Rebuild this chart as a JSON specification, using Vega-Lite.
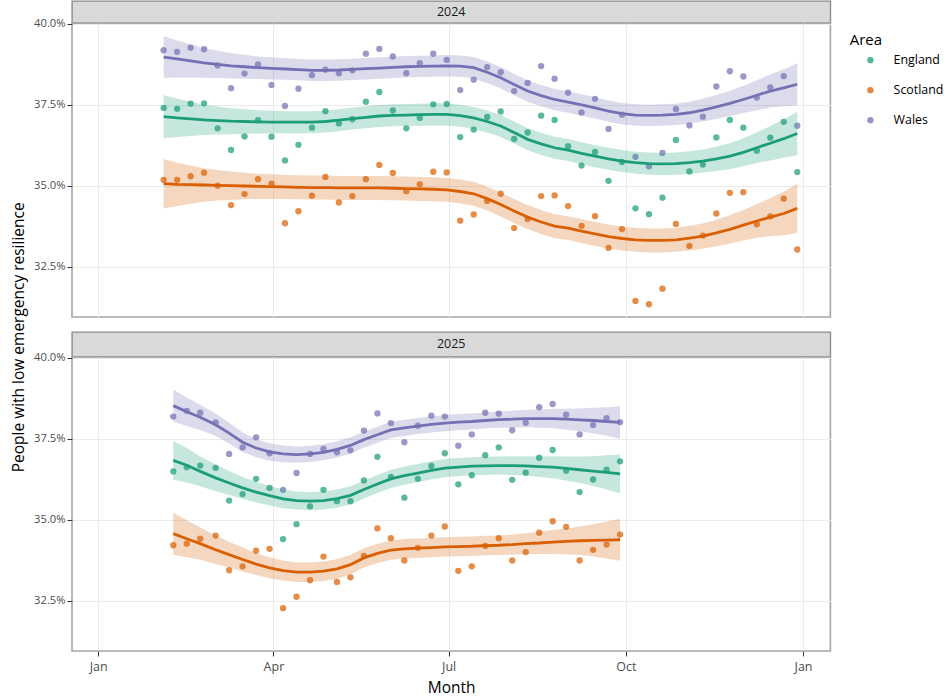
{
  "$schema": "https://vega.github.io/schema/vega-lite/v6.json",
  "background": "white",
  "padding": {"left": 10, "top": 0, "right": 0, "bottom": 0},
  "config": {"font": "Open Sans"},
  "datasets": {
    "y2024": [
      {"date": "2024-02-04", "area": "England", "value": 37.40, "fit": 37.13, "lower": 36.46, "upper": 37.80},
      {"date": "2024-02-11", "area": "England", "value": 37.37, "fit": 37.09, "lower": 36.50, "upper": 37.68},
      {"date": "2024-02-18", "area": "England", "value": 37.53, "fit": 37.06, "lower": 36.53, "upper": 37.59},
      {"date": "2024-02-25", "area": "England", "value": 37.54, "fit": 37.03, "lower": 36.56, "upper": 37.50},
      {"date": "2024-03-03", "area": "England", "value": 36.77, "fit": 37.01, "lower": 36.58, "upper": 37.44},
      {"date": "2024-03-10", "area": "England", "value": 36.10, "fit": 36.99, "lower": 36.59, "upper": 37.39},
      {"date": "2024-03-17", "area": "England", "value": 36.52, "fit": 36.98, "lower": 36.60, "upper": 37.36},
      {"date": "2024-03-24", "area": "England", "value": 37.02, "fit": 36.97, "lower": 36.61, "upper": 37.33},
      {"date": "2024-03-31", "area": "England", "value": 36.51, "fit": 36.96, "lower": 36.61, "upper": 37.31},
      {"date": "2024-04-07", "area": "England", "value": 35.78, "fit": 36.96, "lower": 36.62, "upper": 37.30},
      {"date": "2024-04-14", "area": "England", "value": 36.26, "fit": 36.96, "lower": 36.62, "upper": 37.30},
      {"date": "2024-04-21", "area": "England", "value": 36.79, "fit": 36.96, "lower": 36.62, "upper": 37.30},
      {"date": "2024-04-28", "area": "England", "value": 37.30, "fit": 36.98, "lower": 36.64, "upper": 37.32},
      {"date": "2024-05-05", "area": "England", "value": 36.92, "fit": 37.02, "lower": 36.68, "upper": 37.36},
      {"date": "2024-05-12", "area": "England", "value": 37.05, "fit": 37.07, "lower": 36.73, "upper": 37.41},
      {"date": "2024-05-19", "area": "England", "value": 37.59, "fit": 37.11, "lower": 36.77, "upper": 37.45},
      {"date": "2024-05-26", "area": "England", "value": 37.89, "fit": 37.15, "lower": 36.81, "upper": 37.49},
      {"date": "2024-06-02", "area": "England", "value": 37.32, "fit": 37.17, "lower": 36.83, "upper": 37.51},
      {"date": "2024-06-09", "area": "England", "value": 36.77, "fit": 37.18, "lower": 36.84, "upper": 37.52},
      {"date": "2024-06-16", "area": "England", "value": 37.09, "fit": 37.19, "lower": 36.85, "upper": 37.53},
      {"date": "2024-06-23", "area": "England", "value": 37.51, "fit": 37.20, "lower": 36.86, "upper": 37.54},
      {"date": "2024-06-30", "area": "England", "value": 37.52, "fit": 37.20, "lower": 36.86, "upper": 37.54},
      {"date": "2024-07-07", "area": "England", "value": 36.50, "fit": 37.16, "lower": 36.82, "upper": 37.50},
      {"date": "2024-07-14", "area": "England", "value": 36.73, "fit": 37.09, "lower": 36.75, "upper": 37.43},
      {"date": "2024-07-21", "area": "England", "value": 37.12, "fit": 36.98, "lower": 36.64, "upper": 37.32},
      {"date": "2024-07-28", "area": "England", "value": 37.29, "fit": 36.84, "lower": 36.50, "upper": 37.18},
      {"date": "2024-08-04", "area": "England", "value": 36.44, "fit": 36.64, "lower": 36.30, "upper": 36.98},
      {"date": "2024-08-11", "area": "England", "value": 36.64, "fit": 36.43, "lower": 36.09, "upper": 36.77},
      {"date": "2024-08-18", "area": "England", "value": 37.16, "fit": 36.29, "lower": 35.95, "upper": 36.63},
      {"date": "2024-08-25", "area": "England", "value": 37.03, "fit": 36.17, "lower": 35.83, "upper": 36.51},
      {"date": "2024-09-01", "area": "England", "value": 36.22, "fit": 36.10, "lower": 35.76, "upper": 36.44},
      {"date": "2024-09-08", "area": "England", "value": 35.62, "fit": 36.00, "lower": 35.66, "upper": 36.34},
      {"date": "2024-09-15", "area": "England", "value": 36.04, "fit": 35.91, "lower": 35.57, "upper": 36.25},
      {"date": "2024-09-22", "area": "England", "value": 35.15, "fit": 35.83, "lower": 35.49, "upper": 36.17},
      {"date": "2024-09-29", "area": "England", "value": 35.73, "fit": 35.76, "lower": 35.42, "upper": 36.10},
      {"date": "2024-10-06", "area": "England", "value": 34.30, "fit": 35.71, "lower": 35.37, "upper": 36.05},
      {"date": "2024-10-13", "area": "England", "value": 34.12, "fit": 35.68, "lower": 35.34, "upper": 36.02},
      {"date": "2024-10-20", "area": "England", "value": 34.63, "fit": 35.67, "lower": 35.33, "upper": 36.01},
      {"date": "2024-10-27", "area": "England", "value": 36.41, "fit": 35.68, "lower": 35.34, "upper": 36.02},
      {"date": "2024-11-03", "area": "England", "value": 35.44, "fit": 35.71, "lower": 35.36, "upper": 36.06},
      {"date": "2024-11-10", "area": "England", "value": 35.65, "fit": 35.76, "lower": 35.40, "upper": 36.12},
      {"date": "2024-11-17", "area": "England", "value": 36.49, "fit": 35.83, "lower": 35.45, "upper": 36.21},
      {"date": "2024-11-24", "area": "England", "value": 37.03, "fit": 35.91, "lower": 35.51, "upper": 36.31},
      {"date": "2024-12-01", "area": "England", "value": 36.79, "fit": 36.03, "lower": 35.60, "upper": 36.46},
      {"date": "2024-12-08", "area": "England", "value": 36.08, "fit": 36.17, "lower": 35.70, "upper": 36.64},
      {"date": "2024-12-15", "area": "England", "value": 36.48, "fit": 36.31, "lower": 35.78, "upper": 36.84},
      {"date": "2024-12-22", "area": "England", "value": 36.97, "fit": 36.45, "lower": 35.86, "upper": 37.04},
      {"date": "2024-12-29", "area": "England", "value": 35.42, "fit": 36.61, "lower": 35.94, "upper": 37.28},
      {"date": "2024-02-04", "area": "Scotland", "value": 35.18, "fit": 35.06, "lower": 34.30, "upper": 35.82},
      {"date": "2024-02-11", "area": "Scotland", "value": 35.18, "fit": 35.04, "lower": 34.37, "upper": 35.71},
      {"date": "2024-02-18", "area": "Scotland", "value": 35.29, "fit": 35.03, "lower": 34.44, "upper": 35.62},
      {"date": "2024-02-25", "area": "Scotland", "value": 35.40, "fit": 35.02, "lower": 34.50, "upper": 35.54},
      {"date": "2024-03-03", "area": "Scotland", "value": 35.00, "fit": 35.01, "lower": 34.54, "upper": 35.48},
      {"date": "2024-03-10", "area": "Scotland", "value": 34.40, "fit": 35.00, "lower": 34.56, "upper": 35.44},
      {"date": "2024-03-17", "area": "Scotland", "value": 34.74, "fit": 34.99, "lower": 34.58, "upper": 35.40},
      {"date": "2024-03-24", "area": "Scotland", "value": 35.20, "fit": 34.98, "lower": 34.59, "upper": 35.37},
      {"date": "2024-03-31", "area": "Scotland", "value": 35.06, "fit": 34.97, "lower": 34.59, "upper": 35.35},
      {"date": "2024-04-07", "area": "Scotland", "value": 33.84, "fit": 34.96, "lower": 34.59, "upper": 35.33},
      {"date": "2024-04-14", "area": "Scotland", "value": 34.21, "fit": 34.95, "lower": 34.58, "upper": 35.32},
      {"date": "2024-04-21", "area": "Scotland", "value": 34.69, "fit": 34.94, "lower": 34.57, "upper": 35.31},
      {"date": "2024-04-28", "area": "Scotland", "value": 35.27, "fit": 34.94, "lower": 34.57, "upper": 35.31},
      {"date": "2024-05-05", "area": "Scotland", "value": 34.48, "fit": 34.93, "lower": 34.56, "upper": 35.30},
      {"date": "2024-05-12", "area": "Scotland", "value": 34.68, "fit": 34.93, "lower": 34.56, "upper": 35.30},
      {"date": "2024-05-19", "area": "Scotland", "value": 35.20, "fit": 34.93, "lower": 34.56, "upper": 35.30},
      {"date": "2024-05-26", "area": "Scotland", "value": 35.64, "fit": 34.93, "lower": 34.56, "upper": 35.30},
      {"date": "2024-06-02", "area": "Scotland", "value": 35.39, "fit": 34.92, "lower": 34.55, "upper": 35.29},
      {"date": "2024-06-09", "area": "Scotland", "value": 34.83, "fit": 34.91, "lower": 34.54, "upper": 35.28},
      {"date": "2024-06-16", "area": "Scotland", "value": 35.04, "fit": 34.90, "lower": 34.53, "upper": 35.27},
      {"date": "2024-06-23", "area": "Scotland", "value": 35.43, "fit": 34.89, "lower": 34.52, "upper": 35.26},
      {"date": "2024-06-30", "area": "Scotland", "value": 35.41, "fit": 34.87, "lower": 34.50, "upper": 35.24},
      {"date": "2024-07-07", "area": "Scotland", "value": 33.92, "fit": 34.82, "lower": 34.45, "upper": 35.19},
      {"date": "2024-07-14", "area": "Scotland", "value": 34.11, "fit": 34.75, "lower": 34.38, "upper": 35.12},
      {"date": "2024-07-21", "area": "Scotland", "value": 34.53, "fit": 34.60, "lower": 34.23, "upper": 34.97},
      {"date": "2024-07-28", "area": "Scotland", "value": 34.75, "fit": 34.42, "lower": 34.05, "upper": 34.79},
      {"date": "2024-08-04", "area": "Scotland", "value": 33.69, "fit": 34.22, "lower": 33.85, "upper": 34.59},
      {"date": "2024-08-11", "area": "Scotland", "value": 33.97, "fit": 34.03, "lower": 33.66, "upper": 34.40},
      {"date": "2024-08-18", "area": "Scotland", "value": 34.68, "fit": 33.88, "lower": 33.51, "upper": 34.25},
      {"date": "2024-08-25", "area": "Scotland", "value": 34.70, "fit": 33.75, "lower": 33.38, "upper": 34.12},
      {"date": "2024-09-01", "area": "Scotland", "value": 34.37, "fit": 33.69, "lower": 33.32, "upper": 34.06},
      {"date": "2024-09-08", "area": "Scotland", "value": 33.76, "fit": 33.60, "lower": 33.23, "upper": 33.97},
      {"date": "2024-09-15", "area": "Scotland", "value": 34.06, "fit": 33.51, "lower": 33.14, "upper": 33.88},
      {"date": "2024-09-22", "area": "Scotland", "value": 33.08, "fit": 33.43, "lower": 33.06, "upper": 33.80},
      {"date": "2024-09-29", "area": "Scotland", "value": 33.66, "fit": 33.37, "lower": 33.00, "upper": 33.74},
      {"date": "2024-10-06", "area": "Scotland", "value": 31.44, "fit": 33.33, "lower": 32.96, "upper": 33.70},
      {"date": "2024-10-13", "area": "Scotland", "value": 31.34, "fit": 33.31, "lower": 32.94, "upper": 33.68},
      {"date": "2024-10-20", "area": "Scotland", "value": 31.82, "fit": 33.31, "lower": 32.94, "upper": 33.68},
      {"date": "2024-10-27", "area": "Scotland", "value": 33.82, "fit": 33.33, "lower": 32.96, "upper": 33.70},
      {"date": "2024-11-03", "area": "Scotland", "value": 33.14, "fit": 33.38, "lower": 33.00, "upper": 33.76},
      {"date": "2024-11-10", "area": "Scotland", "value": 33.46, "fit": 33.44, "lower": 33.05, "upper": 33.83},
      {"date": "2024-11-17", "area": "Scotland", "value": 34.14, "fit": 33.54, "lower": 33.13, "upper": 33.95},
      {"date": "2024-11-24", "area": "Scotland", "value": 34.78, "fit": 33.65, "lower": 33.21, "upper": 34.09},
      {"date": "2024-12-01", "area": "Scotland", "value": 34.80, "fit": 33.78, "lower": 33.31, "upper": 34.25},
      {"date": "2024-12-08", "area": "Scotland", "value": 33.81, "fit": 33.91, "lower": 33.39, "upper": 34.43},
      {"date": "2024-12-15", "area": "Scotland", "value": 34.05, "fit": 34.03, "lower": 33.44, "upper": 34.62},
      {"date": "2024-12-22", "area": "Scotland", "value": 34.60, "fit": 34.14, "lower": 33.47, "upper": 34.81},
      {"date": "2024-12-29", "area": "Scotland", "value": 33.03, "fit": 34.30, "lower": 33.54, "upper": 35.06},
      {"date": "2024-02-04", "area": "Wales", "value": 39.18, "fit": 38.97, "lower": 38.32, "upper": 39.62},
      {"date": "2024-02-11", "area": "Wales", "value": 39.13, "fit": 38.91, "lower": 38.34, "upper": 39.48},
      {"date": "2024-02-18", "area": "Wales", "value": 39.26, "fit": 38.85, "lower": 38.34, "upper": 39.36},
      {"date": "2024-02-25", "area": "Wales", "value": 39.21, "fit": 38.79, "lower": 38.33, "upper": 39.25},
      {"date": "2024-03-03", "area": "Wales", "value": 38.71, "fit": 38.74, "lower": 38.32, "upper": 39.16},
      {"date": "2024-03-10", "area": "Wales", "value": 38.01, "fit": 38.70, "lower": 38.31, "upper": 39.09},
      {"date": "2024-03-17", "area": "Wales", "value": 38.46, "fit": 38.67, "lower": 38.30, "upper": 39.04},
      {"date": "2024-03-24", "area": "Wales", "value": 38.74, "fit": 38.64, "lower": 38.29, "upper": 38.99},
      {"date": "2024-03-31", "area": "Wales", "value": 38.11, "fit": 38.62, "lower": 38.28, "upper": 38.96},
      {"date": "2024-04-07", "area": "Wales", "value": 37.46, "fit": 38.60, "lower": 38.27, "upper": 38.93},
      {"date": "2024-04-14", "area": "Wales", "value": 37.99, "fit": 38.58, "lower": 38.25, "upper": 38.91},
      {"date": "2024-04-21", "area": "Wales", "value": 38.41, "fit": 38.56, "lower": 38.23, "upper": 38.89},
      {"date": "2024-04-28", "area": "Wales", "value": 38.58, "fit": 38.56, "lower": 38.23, "upper": 38.89},
      {"date": "2024-05-05", "area": "Wales", "value": 38.47, "fit": 38.57, "lower": 38.24, "upper": 38.90},
      {"date": "2024-05-12", "area": "Wales", "value": 38.56, "fit": 38.59, "lower": 38.26, "upper": 38.92},
      {"date": "2024-05-19", "area": "Wales", "value": 39.07, "fit": 38.61, "lower": 38.28, "upper": 38.94},
      {"date": "2024-05-26", "area": "Wales", "value": 39.22, "fit": 38.63, "lower": 38.30, "upper": 38.96},
      {"date": "2024-06-02", "area": "Wales", "value": 38.99, "fit": 38.65, "lower": 38.32, "upper": 38.98},
      {"date": "2024-06-09", "area": "Wales", "value": 38.47, "fit": 38.67, "lower": 38.34, "upper": 39.00},
      {"date": "2024-06-16", "area": "Wales", "value": 38.78, "fit": 38.68, "lower": 38.35, "upper": 39.01},
      {"date": "2024-06-23", "area": "Wales", "value": 39.07, "fit": 38.69, "lower": 38.36, "upper": 39.02},
      {"date": "2024-06-30", "area": "Wales", "value": 38.88, "fit": 38.70, "lower": 38.37, "upper": 39.03},
      {"date": "2024-07-07", "area": "Wales", "value": 37.95, "fit": 38.69, "lower": 38.36, "upper": 39.02},
      {"date": "2024-07-14", "area": "Wales", "value": 38.27, "fit": 38.64, "lower": 38.31, "upper": 38.97},
      {"date": "2024-07-21", "area": "Wales", "value": 38.66, "fit": 38.50, "lower": 38.17, "upper": 38.83},
      {"date": "2024-07-28", "area": "Wales", "value": 38.50, "fit": 38.33, "lower": 38.00, "upper": 38.66},
      {"date": "2024-08-04", "area": "Wales", "value": 37.92, "fit": 38.12, "lower": 37.79, "upper": 38.45},
      {"date": "2024-08-11", "area": "Wales", "value": 38.17, "fit": 37.92, "lower": 37.59, "upper": 38.25},
      {"date": "2024-08-18", "area": "Wales", "value": 38.69, "fit": 37.78, "lower": 37.45, "upper": 38.11},
      {"date": "2024-08-25", "area": "Wales", "value": 38.30, "fit": 37.66, "lower": 37.33, "upper": 37.99},
      {"date": "2024-09-01", "area": "Wales", "value": 37.87, "fit": 37.58, "lower": 37.25, "upper": 37.91},
      {"date": "2024-09-08", "area": "Wales", "value": 37.26, "fit": 37.49, "lower": 37.16, "upper": 37.82},
      {"date": "2024-09-15", "area": "Wales", "value": 37.68, "fit": 37.40, "lower": 37.07, "upper": 37.73},
      {"date": "2024-09-22", "area": "Wales", "value": 36.75, "fit": 37.30, "lower": 36.97, "upper": 37.63},
      {"date": "2024-09-29", "area": "Wales", "value": 37.19, "fit": 37.22, "lower": 36.89, "upper": 37.55},
      {"date": "2024-10-06", "area": "Wales", "value": 35.89, "fit": 37.18, "lower": 36.85, "upper": 37.51},
      {"date": "2024-10-13", "area": "Wales", "value": 35.60, "fit": 37.17, "lower": 36.84, "upper": 37.50},
      {"date": "2024-10-20", "area": "Wales", "value": 36.01, "fit": 37.18, "lower": 36.85, "upper": 37.51},
      {"date": "2024-10-27", "area": "Wales", "value": 37.36, "fit": 37.20, "lower": 36.87, "upper": 37.53},
      {"date": "2024-11-03", "area": "Wales", "value": 36.86, "fit": 37.25, "lower": 36.91, "upper": 37.59},
      {"date": "2024-11-10", "area": "Wales", "value": 37.13, "fit": 37.33, "lower": 36.98, "upper": 37.68},
      {"date": "2024-11-17", "area": "Wales", "value": 38.06, "fit": 37.43, "lower": 37.06, "upper": 37.80},
      {"date": "2024-11-24", "area": "Wales", "value": 38.53, "fit": 37.54, "lower": 37.15, "upper": 37.93},
      {"date": "2024-12-01", "area": "Wales", "value": 38.37, "fit": 37.66, "lower": 37.24, "upper": 38.08},
      {"date": "2024-12-08", "area": "Wales", "value": 37.72, "fit": 37.79, "lower": 37.33, "upper": 38.25},
      {"date": "2024-12-15", "area": "Wales", "value": 38.03, "fit": 37.92, "lower": 37.41, "upper": 38.43},
      {"date": "2024-12-22", "area": "Wales", "value": 38.38, "fit": 38.02, "lower": 37.45, "upper": 38.59},
      {"date": "2024-12-29", "area": "Wales", "value": 36.85, "fit": 38.13, "lower": 37.48, "upper": 38.78}
    ],
    "y2025": [
      {"date": "2025-02-09", "area": "England", "value": 36.49, "fit": 36.83, "lower": 36.23, "upper": 37.43},
      {"date": "2025-02-16", "area": "England", "value": 36.62, "fit": 36.68, "lower": 36.15, "upper": 37.21},
      {"date": "2025-02-23", "area": "England", "value": 36.67, "fit": 36.49, "lower": 36.03, "upper": 36.95},
      {"date": "2025-03-02", "area": "England", "value": 36.60, "fit": 36.29, "lower": 35.88, "upper": 36.70},
      {"date": "2025-03-09", "area": "England", "value": 35.59, "fit": 36.13, "lower": 35.76, "upper": 36.50},
      {"date": "2025-03-16", "area": "England", "value": 35.79, "fit": 35.98, "lower": 35.64, "upper": 36.32},
      {"date": "2025-03-23", "area": "England", "value": 36.26, "fit": 35.85, "lower": 35.53, "upper": 36.17},
      {"date": "2025-03-30", "area": "England", "value": 35.98, "fit": 35.74, "lower": 35.44, "upper": 36.04},
      {"date": "2025-04-06", "area": "England", "value": 34.40, "fit": 35.64, "lower": 35.35, "upper": 35.93},
      {"date": "2025-04-13", "area": "England", "value": 34.86, "fit": 35.59, "lower": 35.31, "upper": 35.87},
      {"date": "2025-04-20", "area": "England", "value": 35.41, "fit": 35.57, "lower": 35.29, "upper": 35.85},
      {"date": "2025-04-27", "area": "England", "value": 35.92, "fit": 35.59, "lower": 35.31, "upper": 35.87},
      {"date": "2025-05-04", "area": "England", "value": 35.57, "fit": 35.65, "lower": 35.37, "upper": 35.93},
      {"date": "2025-05-11", "area": "England", "value": 35.57, "fit": 35.75, "lower": 35.47, "upper": 36.03},
      {"date": "2025-05-18", "area": "England", "value": 36.21, "fit": 35.93, "lower": 35.65, "upper": 36.21},
      {"date": "2025-05-25", "area": "England", "value": 36.94, "fit": 36.10, "lower": 35.82, "upper": 36.38},
      {"date": "2025-06-01", "area": "England", "value": 36.32, "fit": 36.26, "lower": 35.98, "upper": 36.54},
      {"date": "2025-06-08", "area": "England", "value": 35.68, "fit": 36.36, "lower": 36.08, "upper": 36.64},
      {"date": "2025-06-15", "area": "England", "value": 36.26, "fit": 36.44, "lower": 36.16, "upper": 36.72},
      {"date": "2025-06-22", "area": "England", "value": 36.66, "fit": 36.52, "lower": 36.24, "upper": 36.80},
      {"date": "2025-06-29", "area": "England", "value": 37.05, "fit": 36.59, "lower": 36.31, "upper": 36.87},
      {"date": "2025-07-06", "area": "England", "value": 36.09, "fit": 36.62, "lower": 36.34, "upper": 36.90},
      {"date": "2025-07-13", "area": "England", "value": 36.37, "fit": 36.65, "lower": 36.37, "upper": 36.93},
      {"date": "2025-07-20", "area": "England", "value": 36.99, "fit": 36.66, "lower": 36.38, "upper": 36.94},
      {"date": "2025-07-27", "area": "England", "value": 37.23, "fit": 36.67, "lower": 36.39, "upper": 36.95},
      {"date": "2025-08-03", "area": "England", "value": 36.23, "fit": 36.67, "lower": 36.38, "upper": 36.96},
      {"date": "2025-08-10", "area": "England", "value": 36.45, "fit": 36.66, "lower": 36.36, "upper": 36.96},
      {"date": "2025-08-17", "area": "England", "value": 36.91, "fit": 36.64, "lower": 36.32, "upper": 36.96},
      {"date": "2025-08-24", "area": "England", "value": 37.15, "fit": 36.62, "lower": 36.28, "upper": 36.96},
      {"date": "2025-08-31", "area": "England", "value": 36.51, "fit": 36.58, "lower": 36.21, "upper": 36.95},
      {"date": "2025-09-07", "area": "England", "value": 35.85, "fit": 36.54, "lower": 36.13, "upper": 36.95},
      {"date": "2025-09-14", "area": "England", "value": 36.24, "fit": 36.50, "lower": 36.04, "upper": 36.96},
      {"date": "2025-09-21", "area": "England", "value": 36.54, "fit": 36.46, "lower": 35.93, "upper": 36.99},
      {"date": "2025-09-28", "area": "England", "value": 36.80, "fit": 36.41, "lower": 35.81, "upper": 37.01},
      {"date": "2025-02-09", "area": "Scotland", "value": 34.21, "fit": 34.57, "lower": 33.92, "upper": 35.22},
      {"date": "2025-02-16", "area": "Scotland", "value": 34.26, "fit": 34.41, "lower": 33.84, "upper": 34.98},
      {"date": "2025-02-23", "area": "Scotland", "value": 34.41, "fit": 34.26, "lower": 33.76, "upper": 34.76},
      {"date": "2025-03-02", "area": "Scotland", "value": 34.51, "fit": 34.07, "lower": 33.63, "upper": 34.51},
      {"date": "2025-03-09", "area": "Scotland", "value": 33.44, "fit": 33.92, "lower": 33.52, "upper": 34.32},
      {"date": "2025-03-16", "area": "Scotland", "value": 33.56, "fit": 33.77, "lower": 33.40, "upper": 34.14},
      {"date": "2025-03-23", "area": "Scotland", "value": 34.04, "fit": 33.63, "lower": 33.29, "upper": 33.97},
      {"date": "2025-03-30", "area": "Scotland", "value": 34.10, "fit": 33.51, "lower": 33.19, "upper": 33.83},
      {"date": "2025-04-06", "area": "Scotland", "value": 32.27, "fit": 33.43, "lower": 33.12, "upper": 33.74},
      {"date": "2025-04-13", "area": "Scotland", "value": 32.62, "fit": 33.38, "lower": 33.08, "upper": 33.68},
      {"date": "2025-04-20", "area": "Scotland", "value": 33.13, "fit": 33.38, "lower": 33.08, "upper": 33.68},
      {"date": "2025-04-27", "area": "Scotland", "value": 33.86, "fit": 33.41, "lower": 33.11, "upper": 33.71},
      {"date": "2025-05-04", "area": "Scotland", "value": 33.08, "fit": 33.48, "lower": 33.18, "upper": 33.78},
      {"date": "2025-05-11", "area": "Scotland", "value": 33.22, "fit": 33.61, "lower": 33.31, "upper": 33.91},
      {"date": "2025-05-18", "area": "Scotland", "value": 33.88, "fit": 33.82, "lower": 33.52, "upper": 34.12},
      {"date": "2025-05-25", "area": "Scotland", "value": 34.73, "fit": 33.96, "lower": 33.66, "upper": 34.26},
      {"date": "2025-06-01", "area": "Scotland", "value": 34.43, "fit": 34.06, "lower": 33.76, "upper": 34.36},
      {"date": "2025-06-08", "area": "Scotland", "value": 33.74, "fit": 34.10, "lower": 33.80, "upper": 34.40},
      {"date": "2025-06-15", "area": "Scotland", "value": 34.13, "fit": 34.12, "lower": 33.82, "upper": 34.42},
      {"date": "2025-06-22", "area": "Scotland", "value": 34.51, "fit": 34.14, "lower": 33.84, "upper": 34.44},
      {"date": "2025-06-29", "area": "Scotland", "value": 34.79, "fit": 34.16, "lower": 33.86, "upper": 34.46},
      {"date": "2025-07-06", "area": "Scotland", "value": 33.42, "fit": 34.17, "lower": 33.87, "upper": 34.47},
      {"date": "2025-07-13", "area": "Scotland", "value": 33.56, "fit": 34.18, "lower": 33.88, "upper": 34.48},
      {"date": "2025-07-20", "area": "Scotland", "value": 34.19, "fit": 34.20, "lower": 33.90, "upper": 34.50},
      {"date": "2025-07-27", "area": "Scotland", "value": 34.43, "fit": 34.21, "lower": 33.91, "upper": 34.51},
      {"date": "2025-08-03", "area": "Scotland", "value": 33.74, "fit": 34.23, "lower": 33.92, "upper": 34.54},
      {"date": "2025-08-10", "area": "Scotland", "value": 34.00, "fit": 34.26, "lower": 33.94, "upper": 34.58},
      {"date": "2025-08-17", "area": "Scotland", "value": 34.60, "fit": 34.28, "lower": 33.94, "upper": 34.62},
      {"date": "2025-08-24", "area": "Scotland", "value": 34.95, "fit": 34.31, "lower": 33.94, "upper": 34.68},
      {"date": "2025-08-31", "area": "Scotland", "value": 34.78, "fit": 34.33, "lower": 33.93, "upper": 34.73},
      {"date": "2025-09-07", "area": "Scotland", "value": 33.74, "fit": 34.35, "lower": 33.91, "upper": 34.79},
      {"date": "2025-09-14", "area": "Scotland", "value": 34.07, "fit": 34.36, "lower": 33.86, "upper": 34.86},
      {"date": "2025-09-21", "area": "Scotland", "value": 34.23, "fit": 34.37, "lower": 33.80, "upper": 34.94},
      {"date": "2025-09-28", "area": "Scotland", "value": 34.54, "fit": 34.38, "lower": 33.73, "upper": 35.03},
      {"date": "2025-02-09", "area": "Wales", "value": 38.18, "fit": 38.52, "lower": 38.02, "upper": 39.02},
      {"date": "2025-02-16", "area": "Wales", "value": 38.36, "fit": 38.33, "lower": 37.89, "upper": 38.77},
      {"date": "2025-02-23", "area": "Wales", "value": 38.30, "fit": 38.16, "lower": 37.77, "upper": 38.55},
      {"date": "2025-03-02", "area": "Wales", "value": 38.00, "fit": 37.93, "lower": 37.58, "upper": 38.28},
      {"date": "2025-03-09", "area": "Wales", "value": 37.03, "fit": 37.67, "lower": 37.35, "upper": 37.99},
      {"date": "2025-03-16", "area": "Wales", "value": 37.23, "fit": 37.39, "lower": 37.09, "upper": 37.69},
      {"date": "2025-03-23", "area": "Wales", "value": 37.54, "fit": 37.21, "lower": 36.93, "upper": 37.49},
      {"date": "2025-03-30", "area": "Wales", "value": 37.05, "fit": 37.09, "lower": 36.82, "upper": 37.36},
      {"date": "2025-04-06", "area": "Wales", "value": 35.92, "fit": 37.03, "lower": 36.77, "upper": 37.29},
      {"date": "2025-04-13", "area": "Wales", "value": 36.44, "fit": 37.01, "lower": 36.76, "upper": 37.26},
      {"date": "2025-04-20", "area": "Wales", "value": 37.03, "fit": 37.03, "lower": 36.78, "upper": 37.28},
      {"date": "2025-04-27", "area": "Wales", "value": 37.18, "fit": 37.08, "lower": 36.83, "upper": 37.33},
      {"date": "2025-05-04", "area": "Wales", "value": 37.08, "fit": 37.17, "lower": 36.92, "upper": 37.42},
      {"date": "2025-05-11", "area": "Wales", "value": 37.14, "fit": 37.29, "lower": 37.04, "upper": 37.54},
      {"date": "2025-05-18", "area": "Wales", "value": 37.75, "fit": 37.47, "lower": 37.22, "upper": 37.72},
      {"date": "2025-05-25", "area": "Wales", "value": 38.28, "fit": 37.62, "lower": 37.37, "upper": 37.87},
      {"date": "2025-06-01", "area": "Wales", "value": 37.98, "fit": 37.77, "lower": 37.52, "upper": 38.02},
      {"date": "2025-06-08", "area": "Wales", "value": 37.39, "fit": 37.83, "lower": 37.58, "upper": 38.08},
      {"date": "2025-06-15", "area": "Wales", "value": 37.90, "fit": 37.89, "lower": 37.64, "upper": 38.14},
      {"date": "2025-06-22", "area": "Wales", "value": 38.21, "fit": 37.94, "lower": 37.69, "upper": 38.19},
      {"date": "2025-06-29", "area": "Wales", "value": 38.18, "fit": 37.98, "lower": 37.73, "upper": 38.23},
      {"date": "2025-07-06", "area": "Wales", "value": 37.28, "fit": 38.01, "lower": 37.76, "upper": 38.26},
      {"date": "2025-07-13", "area": "Wales", "value": 37.63, "fit": 38.03, "lower": 37.78, "upper": 38.28},
      {"date": "2025-07-20", "area": "Wales", "value": 38.30, "fit": 38.06, "lower": 37.81, "upper": 38.31},
      {"date": "2025-07-27", "area": "Wales", "value": 38.27, "fit": 38.09, "lower": 37.84, "upper": 38.34},
      {"date": "2025-08-03", "area": "Wales", "value": 37.76, "fit": 38.10, "lower": 37.84, "upper": 38.36},
      {"date": "2025-08-10", "area": "Wales", "value": 37.99, "fit": 38.12, "lower": 37.85, "upper": 38.39},
      {"date": "2025-08-17", "area": "Wales", "value": 38.47, "fit": 38.12, "lower": 37.84, "upper": 38.40},
      {"date": "2025-08-24", "area": "Wales", "value": 38.57, "fit": 38.12, "lower": 37.82, "upper": 38.42},
      {"date": "2025-08-31", "area": "Wales", "value": 38.24, "fit": 38.10, "lower": 37.78, "upper": 38.42},
      {"date": "2025-09-07", "area": "Wales", "value": 37.63, "fit": 38.08, "lower": 37.73, "upper": 38.43},
      {"date": "2025-09-14", "area": "Wales", "value": 37.92, "fit": 38.06, "lower": 37.67, "upper": 38.45},
      {"date": "2025-09-21", "area": "Wales", "value": 38.13, "fit": 38.03, "lower": 37.59, "upper": 38.47},
      {"date": "2025-09-28", "area": "Wales", "value": 38.01, "fit": 38.00, "lower": 37.50, "upper": 38.50}
    ]
  },
  "spacing": 0,
  "bounds": "flush",
  "vconcat": [
    {
      "width": 758.4,
      "height": 22,
      "data": {"values": [{"year": "2024"}]},
      "mark": {"type": "text", "fontSize": 12.5, "color": "#1a1a1a"},
      "encoding": {"text": {"field": "year", "type": "nominal"}},
      "view": {"fill": "#d9d9d9", "stroke": "#8c8c8c", "strokeWidth": 1.4}
    },
    {
      "width": 758.4,
      "height": 294,
      "data": {"name": "y2024"},
      "view": {"stroke": "#a6a6a6", "strokeWidth": 1.6},
      "encoding": {
        "x": {
          "field": "date",
          "timeUnit": "utcmonthdate",
          "type": "temporal",
          "scale": {"domain": [
            {"year": 2011, "month": 12, "date": 18, "hours": 10, "utc": true},
            {"year": 2013, "month": 1, "date": 15, "hours": 5, "utc": true}
          ]},
          "axis": {
            "values": [
              {"year": 2012, "month": 1, "date": 1, "utc": true},
              {"year": 2012, "month": 4, "date": 1, "utc": true},
              {"year": 2012, "month": 7, "date": 1, "utc": true},
              {"year": 2012, "month": 10, "date": 1, "utc": true},
              {"year": 2013, "month": 1, "date": 1, "utc": true}
            ],
            "labels": false,
            "ticks": false,
            "domain": false,
            "title": null,
            "grid": true,
            "gridColor": "#ebebeb",
            "gridWidth": 1
          }
        },
        "y": {
          "type": "quantitative",
          "scale": {"domain": [30.947, 40.02], "nice": false, "zero": false},
          "axis": {
            "values": [32.5, 35, 37.5, 40],
            "labelExpr": "format(datum.value, '.1f') + '%'",
            "labelFontSize": 11.2,
            "labelColor": "#4d4d4d",
            "labelPadding": 2,
            "tickSize": 5,
            "tickColor": "#333333",
            "domain": false,
            "grid": true,
            "gridColor": "#ebebeb",
            "gridWidth": 1,
            "title": "People with low emergency resilience",
            "titleFontSize": 15.5,
            "titleFontWeight": "normal",
            "titleColor": "#000000",
            "titleAngle": -90,
            "titleAlign": "center",
            "titleBaseline": "alphabetic",
            "titleX": -48.5,
            "titleY": 313.8
          }
        },
        "color": {
          "field": "area",
          "type": "nominal",
          "scale": {"domain": ["England", "Scotland", "Wales"], "range": ["#1b9e77", "#d95f02", "#7570b3"]},
          "legend": {
            "title": "Area",
            "orient": "none",
            "legendX": 777.7,
            "legendY": 32,
            "padding": 0,
            "titleFontSize": 15,
            "titleFontWeight": "normal",
            "titleColor": "#000000",
            "titlePadding": 6,
            "labelFontSize": 12.4,
            "labelColor": "#000000",
            "labelOffset": 17,
            "symbolType": "circle",
            "symbolSize": 40,
            "symbolOpacity": 0.75,
            "symbolStrokeWidth": 0,
            "symbolOffset": 14.5,
            "rowPadding": 17
          }
        }
      },
      "layer": [
        {
          "mark": {"type": "point", "filled": true, "size": 40, "opacity": 0.72},
          "encoding": {"y": {"field": "value", "type": "quantitative"}}
        },
        {
          "mark": {"type": "area", "opacity": 0.25},
          "encoding": {
            "y": {"field": "lower", "type": "quantitative"},
            "y2": {"field": "upper"}
          }
        },
        {
          "mark": {"type": "line", "strokeWidth": 2.8},
          "encoding": {"y": {"field": "fit", "type": "quantitative"}}
        }
      ]
    },
    {
      "width": 758.4,
      "height": 15,
      "data": {"values": [{}]},
      "mark": {"type": "text", "text": ""},
      "encoding": {},
      "view": {"stroke": null}
    },
    {
      "width": 758.4,
      "height": 24.5,
      "data": {"values": [{"year": "2025"}]},
      "mark": {"type": "text", "fontSize": 12.5, "color": "#1a1a1a"},
      "encoding": {"text": {"field": "year", "type": "nominal"}},
      "view": {"fill": "#d9d9d9", "stroke": "#8c8c8c", "strokeWidth": 1.4}
    },
    {
      "width": 758.4,
      "height": 294,
      "data": {"name": "y2025"},
      "view": {"stroke": "#a6a6a6", "strokeWidth": 1.6},
      "encoding": {
        "x": {
          "field": "date",
          "timeUnit": "utcmonthdate",
          "type": "temporal",
          "scale": {"domain": [
            {"year": 2011, "month": 12, "date": 18, "hours": 10, "utc": true},
            {"year": 2013, "month": 1, "date": 15, "hours": 5, "utc": true}
          ]},
          "axis": {
            "values": [
              {"year": 2012, "month": 1, "date": 1, "utc": true},
              {"year": 2012, "month": 4, "date": 1, "utc": true},
              {"year": 2012, "month": 7, "date": 1, "utc": true},
              {"year": 2012, "month": 10, "date": 1, "utc": true},
              {"year": 2013, "month": 1, "date": 1, "utc": true}
            ],
            "labelExpr": "utcFormat(datum.value, '%b')",
            "labelFontSize": 12.5,
            "labelColor": "#4d4d4d",
            "labelBaseline": "alphabetic",
            "labelPadding": 15,
            "tickSize": 5,
            "tickColor": "#333333",
            "domain": false,
            "grid": true,
            "gridColor": "#ebebeb",
            "gridWidth": 1,
            "title": "Month",
            "titleFontSize": 15.5,
            "titleFontWeight": "normal",
            "titleColor": "#000000",
            "titleBaseline": "alphabetic",
            "titleY": 42
          }
        },
        "y": {
          "type": "quantitative",
          "scale": {"domain": [30.947, 40.02], "nice": false, "zero": false},
          "axis": {
            "values": [32.5, 35, 37.5, 40],
            "labelExpr": "format(datum.value, '.1f') + '%'",
            "labelFontSize": 11.2,
            "labelColor": "#4d4d4d",
            "labelPadding": 2,
            "tickSize": 5,
            "tickColor": "#333333",
            "domain": false,
            "grid": true,
            "gridColor": "#ebebeb",
            "gridWidth": 1,
            "title": null
          }
        },
        "color": {
          "field": "area",
          "type": "nominal",
          "scale": {"domain": ["England", "Scotland", "Wales"], "range": ["#1b9e77", "#d95f02", "#7570b3"]},
          "legend": {
            "title": "Area",
            "orient": "none",
            "legendX": 777.7,
            "legendY": 32,
            "padding": 0,
            "titleFontSize": 15,
            "titleFontWeight": "normal",
            "titleColor": "#000000",
            "titlePadding": 6,
            "labelFontSize": 12.4,
            "labelColor": "#000000",
            "labelOffset": 17,
            "symbolType": "circle",
            "symbolSize": 40,
            "symbolOpacity": 0.75,
            "symbolStrokeWidth": 0,
            "symbolOffset": 14.5,
            "rowPadding": 17
          }
        }
      },
      "layer": [
        {
          "mark": {"type": "point", "filled": true, "size": 40, "opacity": 0.72},
          "encoding": {"y": {"field": "value", "type": "quantitative"}}
        },
        {
          "mark": {"type": "area", "opacity": 0.25},
          "encoding": {
            "y": {"field": "lower", "type": "quantitative"},
            "y2": {"field": "upper"}
          }
        },
        {
          "mark": {"type": "line", "strokeWidth": 2.8},
          "encoding": {"y": {"field": "fit", "type": "quantitative"}}
        }
      ]
    }
  ]
}
